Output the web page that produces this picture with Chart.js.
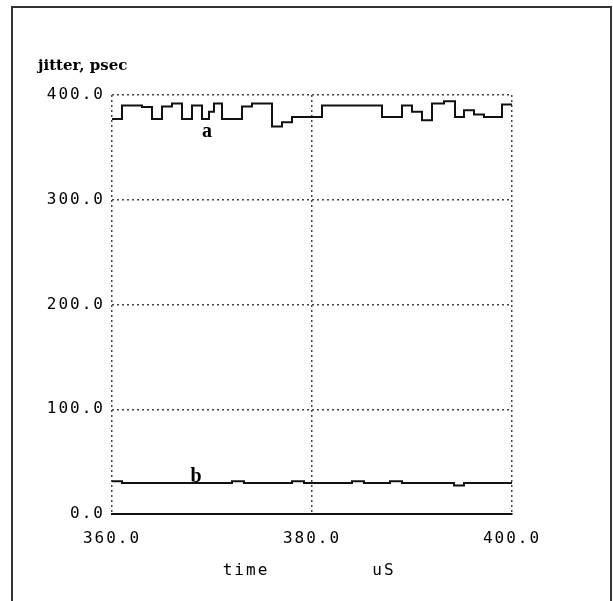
<!DOCTYPE html>
<html>
<head>
<meta charset="utf-8">
<script src="https://cdn.jsdelivr.net/npm/chart.js@4.4.1/dist/chart.umd.min.js"></script>
<style>
  html, body { margin: 0; padding: 0; background: #fff; }
  canvas { display: block; }
</style>
</head>
<body>
<canvas id="jitter" width="613" height="601"></canvas>
<script>
// trace a: step starts (us) and jitter (psec)
const timesA = [360, 361, 363, 364, 365, 366, 367, 368, 369, 369.7, 370.2, 371, 373, 374, 376, 377, 378,
                381, 387, 389, 390, 391, 392, 393.2, 394.3, 395.2, 396.2, 397.2, 399, 400];
const jitterA = [377, 390, 388.5, 377, 389, 392, 377, 390, 377, 384, 392, 377, 389, 392, 370, 374, 379,
                 390, 379, 390, 384, 376, 392, 394, 379, 385.5, 381.5, 379, 391, 391];

// trace b
const timesB = [360, 361, 372, 373.2, 378, 379.2, 384, 385.2, 387.8, 389, 394.2, 395.2, 400];
const jitterB = [31.3, 29.7, 31.3, 29.7, 31.3, 29.7, 31.3, 29.7, 31.3, 29.7, 27.2, 29.7, 29.7];

const xTicks = [360, 380, 400];
const yTicks = [0, 100, 200, 300, 400];
const traceLabels = ['a', 'b'];

const toPoints = (xs, ys) => xs.map((x, i) => ({ x: x, y: ys[i] }));

const monoFont = { family: 'DejaVu Sans Mono', size: 16 };

// frame, title, trace names and axis title
const decorations = {
  id: 'decorations',
  beforeDraw(chart) {
    chart.ctx.letterSpacing = '2px';
  },
  afterDraw(chart) {
    const ctx = chart.ctx;
    ctx.save();
    ctx.letterSpacing = '0px';
    ctx.strokeStyle = '#333';
    ctx.lineWidth = 2;
    ctx.beginPath();
    ctx.moveTo(12, 601);
    ctx.lineTo(12, 7);
    ctx.lineTo(611, 7);
    ctx.lineTo(611, 601);
    ctx.stroke();

    ctx.fillStyle = '#000';
    ctx.font = 'bold 15px "DejaVu Serif"';
    ctx.textAlign = 'left';
    ctx.textBaseline = 'alphabetic';
    ctx.fillText('jitter, psec', 38, 70);

    ctx.font = 'bold 20px "Liberation Serif"';
    ctx.textAlign = 'center';
    ctx.fillText(traceLabels[0], 207, 137);
    ctx.fillText(traceLabels[1], 196, 482);

    ctx.letterSpacing = '2px';
    ctx.font = '16px "DejaVu Sans Mono"';
    ctx.textBaseline = 'middle';
    ctx.fillText('time', 246, 571);
    ctx.fillText('uS', 384, 571);
    ctx.restore();
  }
};

new Chart(document.getElementById('jitter'), {
  type: 'line',
  data: {
    datasets: [
      { label: 'a', data: toPoints(timesA, jitterA) },
      { label: 'b', data: toPoints(timesB, jitterB) }
    ]
  },
  options: {
    responsive: false,
    animation: false,
    devicePixelRatio: 1,
    layout: { padding: { left: 0, top: 95, right: 101, bottom: 0 } },
    elements: {
      line: { borderColor: '#111', borderWidth: 2, stepped: 'before', fill: false },
      point: { radius: 0 }
    },
    plugins: { legend: { display: false }, tooltip: { enabled: false } },
    scales: {
      x: {
        type: 'linear',
        min: xTicks[0],
        max: xTicks[xTicks.length - 1],
        afterBuildTicks: s => { s.ticks = xTicks.map(v => ({ value: v })); },
        afterFit: s => { s.height = 87; },
        grid: { color: '#444', lineWidth: 1.5, drawTicks: false },
        border: { display: true, color: '#111', width: 2, dash: [2, 3] },
        ticks: { color: '#000', font: monoFont, padding: 15, maxRotation: 0,
                 callback: v => v.toFixed(1) }
      },
      y: {
        min: yTicks[0],
        max: yTicks[yTicks.length - 1],
        afterBuildTicks: s => { s.ticks = yTicks.map(v => ({ value: v })); },
        afterFit: s => { s.width = 112; },
        grid: { color: '#444', lineWidth: 1.5, drawTicks: false },
        border: { display: false, dash: [2, 3] },
        ticks: { color: '#000', font: monoFont, padding: 7,
                 callback: v => v.toFixed(1) }
      }
    }
  },
  plugins: [decorations]
});
</script>
</body>
</html>
